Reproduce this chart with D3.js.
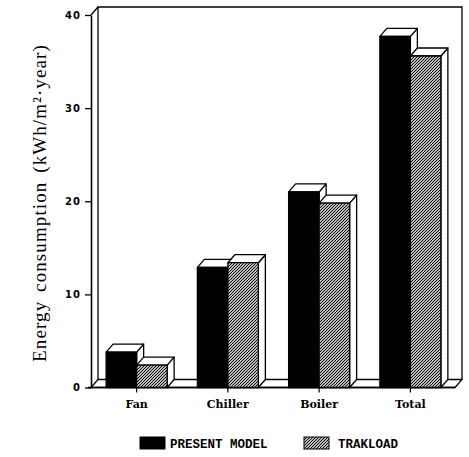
<!DOCTYPE html>
<html>
<head>
<meta charset="utf-8">
<script src="https://cdn.jsdelivr.net/npm/d3@7"></script>
<style>
  html, body { margin: 0; padding: 0; background: #fff; }
  svg { display: block; }
</style>
</head>
<body>
<svg id="chart" width="469" height="457"></svg>
<script>
// Annual energy consumption by end use, two calculation methods
const categories = ["Fan", "Chiller", "Boiler", "Total"];
const seriesNames = ["PRESENT MODEL", "TRAKLOAD"];
const presentModel = [3.8, 12.9, 21.0, 37.7];
const trakload = [2.4, 13.4, 19.8, 35.6];
const yTicks = [0, 10, 20, 30, 40];

const svg = d3.select("#chart");
const ink = "#000";

// pseudo-3D depth offset of the box and the bars
const dx = 7, dy = -8;

const x = d3.scaleBand().domain(categories).range([91, 456]).paddingInner(0).paddingOuter(0);
const inner = d3.scaleBand().domain(seriesNames).range([0, 61]);
const y = d3.scaleLinear().domain([0, 40]).range([387.5, 15]);

const defs = svg.append("defs");
const hatch = defs.append("pattern")
  .attr("id", "hatch")
  .attr("patternUnits", "userSpaceOnUse")
  .attr("width", 3).attr("height", 3);
hatch.append("rect").attr("width", 3).attr("height", 3).attr("fill", "#fff");
hatch.append("path")
  .attr("d", "M-1,1 l2,-2 M0,3 l3,-3 M2,4 l2,-2")
  .attr("stroke", ink).attr("stroke-width", 1.05);

const fills = { "PRESENT MODEL": ink, "TRAKLOAD": "url(#hatch)" };

const x0 = x.range()[0], x1 = x.range()[1] - 1;
const yTop = y(40), yBase = y(0);

// back wall and floor of the box
const box = svg.append("g").attr("fill", "none").attr("stroke", ink).attr("stroke-width", 1.3);
box.append("path").attr("d", `M${x0 + dx},${yBase + dy} V${yTop + dy} H${x1 + dx} V${yBase + dy}`);
box.append("path").attr("d", `M${x0},${yTop} L${x0 + dx},${yTop + dy}`);
box.append("path")
  .attr("fill", "#fff")
  .attr("d", `M${x0},${yBase} H${x1} L${x1 + dx},${yBase + dy} H${x0 + dx} Z`);

// y axis line with ticks and labels
const yAxis = svg.append("g").attr("transform", `translate(${x0},0)`)
  .call(d3.axisLeft(y).tickValues(yTicks).tickSize(6).tickSizeOuter(0).tickFormat(d3.format("d")));
yAxis.select(".domain").attr("stroke", ink).attr("stroke-width", 1.6);
yAxis.selectAll(".tick line").attr("stroke", ink).attr("stroke-width", 1.3);
yAxis.selectAll(".tick text")
  .attr("x", -10)
  .attr("fill", ink)
  .style("font-family", "'DejaVu Sans', sans-serif")
  .style("font-weight", "bold")
  .style("font-size", "10px")
  .style("letter-spacing", "1px");

// x axis labels and small ticks below the floor
const xAxis = svg.append("g").attr("transform", `translate(0,${yBase})`)
  .call(d3.axisBottom(x).tickSize(5).tickSizeOuter(0));
xAxis.select(".domain").attr("stroke", ink).attr("stroke-width", 1.3)
  .attr("d", `M${x0 - 3},0 H${x1}`);
xAxis.selectAll(".tick line").attr("stroke", ink).attr("stroke-width", 1.2);
xAxis.selectAll(".tick text")
  .attr("y", 13)
  .attr("fill", ink)
  .style("font-family", "'DejaVu Serif', serif")
  .style("font-weight", "bold")
  .style("font-size", "11px");

// bars: front face, side face, top face
const rows = [];
categories.forEach((c, i) => {
  rows.push({ cat: c, series: seriesNames[0], value: presentModel[i] });
  rows.push({ cat: c, series: seriesNames[1], value: trakload[i] });
});

const bars = svg.append("g").attr("stroke", ink).attr("stroke-width", 1.3).attr("stroke-linejoin", "round");
rows.forEach(d => {
  const bx = x(d.cat) + (x.bandwidth() - 61) / 2 + inner(d.series);
  const bw = inner.bandwidth();
  const by = y(d.value);
  const g = bars.append("g");
  g.append("path").attr("fill", "#fff")
    .attr("d", `M${bx + bw},${yBase} V${by} l${dx},${dy} V${yBase + dy} Z`);
  g.append("path").attr("fill", "#fff")
    .attr("d", `M${bx},${by} H${bx + bw} l${dx},${dy} H${bx + dx} Z`);
  g.append("rect")
    .attr("x", bx).attr("y", by)
    .attr("width", bw).attr("height", yBase - by)
    .attr("fill", fills[d.series]);
});

// axis title
svg.append("text")
  .attr("transform", "translate(46,203) rotate(-90)")
  .attr("text-anchor", "middle")
  .attr("fill", ink)
  .style("font-family", "'Liberation Serif', 'Times New Roman', serif")
  .style("font-size", "19px")
  .style("letter-spacing", "1.1px")
  .style("word-spacing", "3px")
  .text("Energy consumption (kWh/m²·year)");

// legend
const legendItems = [
  { name: seriesNames[0], rx: 140, tx: 170 },
  { name: seriesNames[1], rx: 304, tx: 338 }
];
const legend = svg.append("g");
legendItems.forEach(it => {
  legend.append("rect")
    .attr("x", it.rx).attr("y", 437)
    .attr("width", 25).attr("height", 12)
    .attr("fill", fills[it.name])
    .attr("stroke", ink).attr("stroke-width", 1);
  legend.append("text")
    .attr("x", it.tx).attr("y", 448)
    .attr("fill", ink)
    .style("font-family", "'Liberation Mono', monospace")
    .style("font-weight", "bold")
    .style("font-size", "12.5px")
    .text(it.name);
});
</script>
</body>
</html>
